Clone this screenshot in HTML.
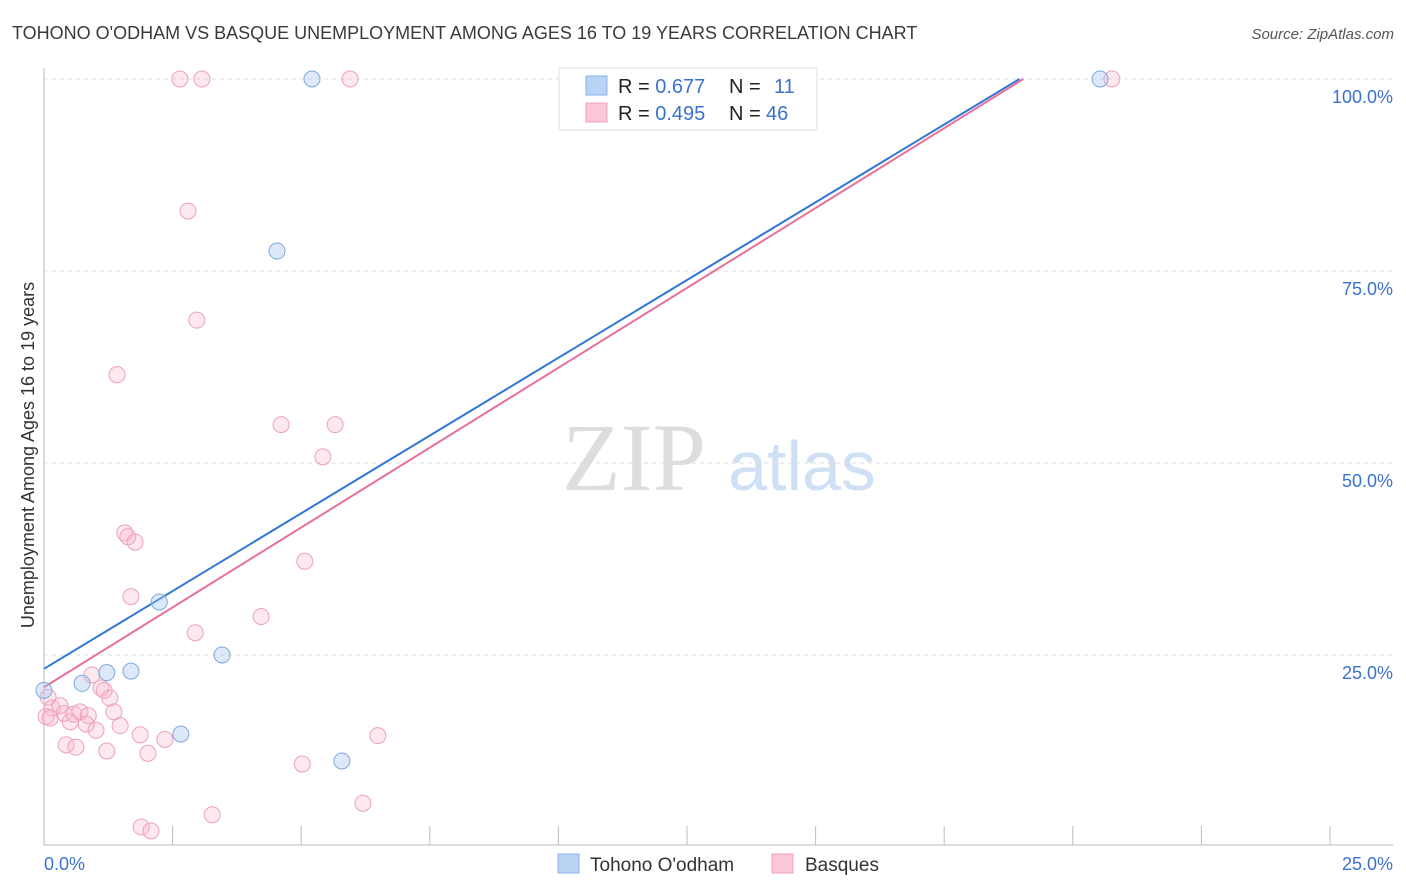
<!DOCTYPE html>
<html><head><meta charset="utf-8"><style>
body{margin:0;background:#fff;font-family:"Liberation Sans",sans-serif;}
svg{display:block}
</style></head><body>
<svg id="chart" width="1406" height="892">
<text x="12" y="39" font-size="18" fill="#3a3a3a">TOHONO O'ODHAM VS BASQUE UNEMPLOYMENT AMONG AGES 16 TO 19 YEARS CORRELATION CHART</text>
<text x="1394" y="39" font-size="15" fill="#555" font-style="italic" text-anchor="end">Source: ZipAtlas.com</text>
<text x="634" y="490" font-size="96" fill="#ddd" font-family="Liberation Serif" text-anchor="middle">ZIP</text>
<text x="802" y="490" font-size="70" fill="#cfe0f5" text-anchor="middle">atlas</text>
<text transform="translate(34,455) rotate(-90)" font-size="18" fill="#333" text-anchor="middle">Unemployment Among Ages 16 to 19 years</text>
<g id="grid"></g><g id="axes"></g><g id="lines"></g><g id="points"></g>
<g>
<rect x="559" y="68" width="258" height="62" fill="#fff" stroke="#ddd"/>
<rect x="586" y="76" width="21" height="19" fill="#b9d3f5" stroke="#8ab3ea"/>
<rect x="586" y="103" width="21" height="19" fill="#fcc8d8" stroke="#f0a0bb"/>
<text x="618" y="93" font-size="20" fill="#222">R = <tspan fill="#3a72d0">0.677</tspan><tspan x="729">N = </tspan><tspan x="774" fill="#3a72d0">11</tspan></text>
<text x="618" y="120" font-size="20" fill="#222">R = <tspan fill="#3a72d0">0.495</tspan><tspan x="729">N = </tspan><tspan x="766" fill="#3a72d0">46</tspan></text>
</g>
<g>
<rect x="558" y="854" width="21" height="19" fill="#b9d3f5" stroke="#8ab3ea"/>
<text x="590" y="871" font-size="19" fill="#333">Tohono O'odham</text>
<rect x="772" y="854" width="21" height="19" fill="#fcc8d8" stroke="#f0a0bb"/>
<text x="805" y="871" font-size="19" fill="#333">Basques</text>
</g>
</svg>
<script>
const blueX=[0,0.74,1.22,1.69,2.24,2.66,3.46,4.53,5.21,5.79,20.53];
const blueY=[20.4,21.3,22.7,22.9,31.9,14.7,25.0,77.6,100,11.2,100];
const pinkX=[2.64,3.07,5.95,20.76,2.80,2.97,1.42,4.61,5.66,5.42,1.57,1.63,1.77,5.07,1.69,4.22,2.94,0.93,1.11,1.17,1.28,0.08,0.16,0.31,0.39,0.04,0.12,0.51,0.58,0.70,0.86,0.82,1.36,1.48,1.01,1.87,2.35,6.49,0.43,0.62,1.22,2.02,5.02,6.20,3.27,1.89,2.08];
const pinkY=[100,100,100,100,82.8,68.6,61.5,55.0,55.0,50.8,40.9,40.4,39.7,37.2,32.6,30.0,27.9,22.4,20.7,20.4,19.4,19.5,18.1,18.4,17.4,17.0,16.8,16.3,17.3,17.6,17.1,16.0,17.6,15.8,15.2,14.6,14.0,14.5,13.3,13.0,12.5,12.2,10.8,5.7,4.2,2.6,2.1];
const blueTrend=[23.2,4.05]; // intercept, slope per %
const pinkTrend=[20.8,4.16];
const yTicks=[25,50,75,100];
const yTickLabels=["25.0%","50.0%","75.0%","100.0%"];
const ns="http://www.w3.org/2000/svg";
const xs=v=>44+v*51.44, ys=v=>847-v*7.68;
function mk(t,a,p){const e=document.createElementNS(ns,t);for(const k in a)e.setAttribute(k,a[k]);p.appendChild(e);return e;}
const g=document.getElementById('grid'),ax=document.getElementById('axes');
yTicks.forEach((t,i)=>{
 const l=mk('line',{x1:44,x2:1393,y1:ys(t),y2:ys(t),stroke:'#ddd','stroke-dasharray':'4,4'},g);
 
 const tx=mk('text',{x:1393,y:ys(t)+24,'font-size':18,fill:'#3a72d0','text-anchor':'end'},ax);
 tx.textContent=yTickLabels[i];
 
});
mk('line',{x1:44,x2:44,y1:68,y2:845,stroke:'#bbb'},ax);
mk('line',{x1:44,x2:1393,y1:845,y2:845,stroke:'#bbb'},ax);
for(let i=0;i<=10;i++){const t=mk('line',{x1:xs(i*2.5),x2:xs(i*2.5),y1:826,y2:845,stroke:'#bbb'},ax);}
const x0=mk('text',{x:44,y:870,'font-size':18,fill:'#3a72d0'},ax);x0.textContent='0.0%';

const x1=mk('text',{x:1393,y:870,'font-size':18,fill:'#3a72d0','text-anchor':'end'},ax);x1.textContent='25.0%';

const L=document.getElementById('lines');
[[blueTrend,'#2f76d6','blue-trend-line'],[pinkTrend,'#e8709a','pink-trend-line']].forEach(([tr,c,n])=>{
 const xe=(100-tr[0])/tr[1];
 const l=mk('line',{x1:xs(0),y1:ys(tr[0]),x2:xs(xe),y2:ys(100),stroke:c,'stroke-width':2},L);
 
});
const P=document.getElementById('points');
pinkX.forEach((x,i)=>{const c=mk('circle',{cx:xs(x),cy:ys(pinkY[i]),r:8,fill:'rgba(248,180,202,0.3)',stroke:'#eea0ba','stroke-width':1},P);
 });
blueX.forEach((x,i)=>{const c=mk('circle',{cx:xs(x),cy:ys(blueY[i]),r:8,fill:'rgba(170,200,240,0.4)',stroke:'#7ea8e0','stroke-width':1},P);
 });
</script>
</body></html>
